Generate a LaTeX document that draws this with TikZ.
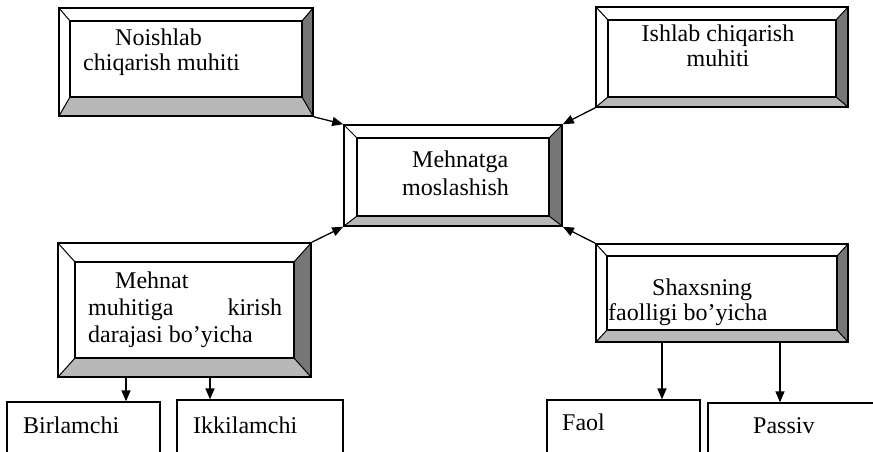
\documentclass[tikz,border=0pt]{standalone}
\usepackage{fontspec}
\setmainfont{Liberation Serif}
\usetikzlibrary{arrows.meta,positioning}
\definecolor{bevdark}{HTML}{767676}
\definecolor{bevlight}{HTML}{B8B8B8}

% bevelled frame, drawn inside the node path: #1 sides, #2 top, #3 bottom
\newcommand{\bevelfill}[3]{%
  \path (path picture bounding box.north west) coordinate (onw)
        (path picture bounding box.north east) coordinate (one)
        (path picture bounding box.south east) coordinate (ose)
        (path picture bounding box.south west) coordinate (osw);
  \path ([shift={(#1pt,-#2pt)}]onw) coordinate (inw)
        ([shift={(-#1pt,-#2pt)}]one) coordinate (ine)
        ([shift={(-#1pt,#3pt)}]ose) coordinate (ise)
        ([shift={(#1pt,#3pt)}]osw) coordinate (isw);
  \fill[bevdark] (one) -- (ose) -- (ise) -- (ine) -- cycle;
  \fill[bevlight] (osw) -- (ose) -- (ise) -- (isw) -- cycle;
  \draw[line width=1pt] (onw) -- (inw) (one) -- (ine) (ose) -- (ise) (osw) -- (isw);
  \draw[line width=1.3pt] (inw) rectangle (ise);
}

\begin{document}
\begin{tikzpicture}[x=1pt,y=-1pt,
  bevelbox/.style n args={3}{draw, line width=1.6pt, fill=white, inner sep=0pt,
    path picture={\bevelfill{#1}{#2}{#3}}},
  plainbox/.style={draw, line width=1.3pt, inner sep=0pt},
  boxtext/.style={inner sep=0pt, font=\fontsize{24}{26}\selectfont, align=flush left,
    execute at begin node=\setlength{\parindent}{0pt}},
  arr/.style={line width=1.3pt, -{Triangle[length=11pt,width=9pt]}}]
  \useasboundingbox (0,0) rectangle (873,451);
  \clip (0,0) rectangle (873,451);

  % bevelled boxes
  \node[bevelbox={11}{13}{19}, minimum width=254pt, minimum height=108pt] (noishlab) at (186,62) {};
  \node[bevelbox={12}{13}{10}, minimum width=252pt, minimum height=100pt] (ishlab) at (722,57) {};
  \node[bevelbox={13}{13}{10}, minimum width=218pt, minimum height=101pt] (mehnatga) at (453,175.5) {};
  \node[bevelbox={17}{19}{19}, minimum width=253pt, minimum height=134pt] (mehnat) at (184.5,310) {};
  \node[bevelbox={11}{12}{12}, minimum width=252pt, minimum height=98pt] (shaxs) at (722,293) {};

  \node[boxtext, text width=162pt, anchor=west, font=\fontsize{24}{25}\selectfont] (noishlab-t) at (83,52)
    {\hspace*{32pt}Noishlab\\chiqarish muhiti};
  \node[boxtext, align=center, font=\fontsize{24}{25}\selectfont] (ishlab-t) at (718,46)
    {Ishlab chiqarish\\muhiti};
  \node[boxtext, text width=130pt, anchor=west, font=\fontsize{24}{28}\selectfont] (mehnatga-t) at (402,173)
    {\hspace*{10pt}Mehnatga\\moslashish};
  \node[boxtext, text width=194pt, anchor=west, font=\fontsize{24}{27}\selectfont] (mehnat-t) at (88,310)
    {\hspace*{27pt}Mehnat\\muhitiga\hfill kirish\\darajasi bo’yicha};
  \node[boxtext, text width=170pt, anchor=west, font=\fontsize{24}{25}\selectfont] (shaxs-t) at (608,302)
    {\hspace*{44pt}Shaxsning\\faolligi bo’yicha};

  % lower boxes, cut by the page edge
  \node[plainbox, minimum width=153pt, minimum height=68pt] (birlamchi) at (83.5,436) {};
  \node[plainbox, minimum width=166pt, minimum height=68pt] (ikkilamchi) at (260,434) {};
  \node[plainbox, minimum width=153pt, minimum height=68pt] (faol) at (623.5,434) {};
  \node[plainbox, minimum width=192pt, minimum height=68pt] (passiv) at (804,437) {};
  \node[boxtext, anchor=base west] (birlamchi-t) at (23,433) {Birlamchi};
  \node[boxtext, anchor=base west] (ikkilamchi-t) at (193,433) {Ikkilamchi};
  \node[boxtext, anchor=base west] (faol-t) at (562,430) {Faol};
  \node[boxtext, anchor=base west] (passiv-t) at (753,433) {Passiv};

  % connectors
  \draw[arr] (noishlab.south east) -- (mehnatga.north west);
  \draw[arr] (ishlab.south west) -- (mehnatga.north east);
  \draw[arr] (mehnat.north east) -- (mehnatga.south west);
  \draw[arr] (shaxs.north west) -- (mehnatga.south east);

  \coordinate (col1) at (126,0);
  \coordinate (col2) at (210,0);
  \coordinate (col3) at (662,0);
  \coordinate (col4) at (780,0);
  \draw[arr] (mehnat.south -| col1) -- (birlamchi.north -| col1);
  \draw[arr] (mehnat.south -| col2) -- (ikkilamchi.north -| col2);
  \draw[arr] (shaxs.south -| col3) -- (faol.north -| col3);
  \draw[arr] (shaxs.south -| col4) -- (passiv.north -| col4);
\end{tikzpicture}
\end{document}
